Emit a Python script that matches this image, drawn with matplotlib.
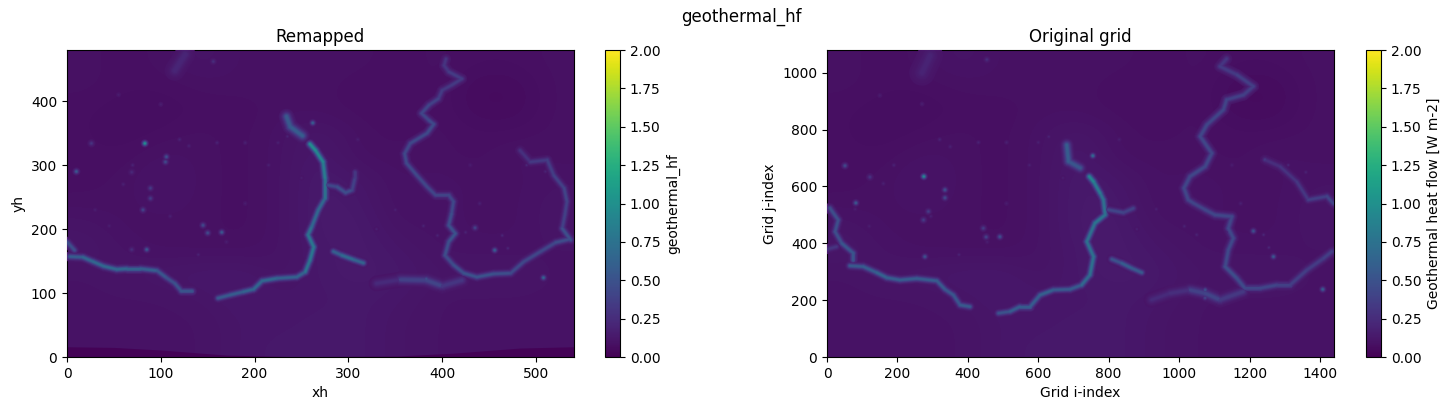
import numpy as np
import matplotlib
matplotlib.use('Agg')
import matplotlib.pyplot as plt
from matplotlib.collections import LineCollection
from matplotlib.colors import Normalize

# Broad background heat flow, rows go from south to north
background = [
    [.10, .10, .10, .10, .12, .13, .13, .13, .11, .10, .10, .10, .10],
    [.10, .10, .10, .10, .12, .12, .13, .13, .11, .10, .10, .10, .10],
    [.10, .10, .10, .11, .13, .12, .12, .13, .12, .10, .10, .10, .10],
    [.10, .11, .12, .13, .13, .10, .13, .14, .13, .11, .11, .11, .10],
    [.12, .10, .09, .09, .09, .10, .13, .14, .12, .10, .10, .10, .10],
    [.11, .09, .09, .09, .08, .10, .14, .14, .10, .10, .09, .09, .11],
    [.09, .09, .10, .09, .08, .10, .14, .13, .09, .10, .09, .09, .11],
    [.08, .09, .11, .09, .08, .10, .14, .12, .09, .10, .09, .09, .10],
    [.08, .08, .10, .09, .08, .10, .13, .09, .09, .09, .08, .10, .09],
    [.08, .07, .08, .09, .08, .10, .12, .09, .08, .09, .08, .08, .09],
    [.08, .07, .07, .08, .08, .09, .09, .08, .08, .09, .06, .06, .09],
    [.09, .08, .08, .09, .09, .09, .09, .08, .08, .09, .06, .06, .09],
    [.09, .08, .09, .11, .09, .09, .09, .09, .08, .09, .08, .08, .09],
]

# Land-free strip along the southern edge of the remapped grid
strip_x = [0, 50, 99, 170, 241, 352, 412, 483, 540]
strip_top = [16, 15, 11, 3, 0.5, 1.5, 6, 14, 16]

# Remapped grid: ridges as (xh, yh), heat flow at each vertex and a width factor
ridge_a = [(3, 157), (17, 156), (28, 149), (39, 142), (53, 137), (64, 138), (78, 138),
           (96, 135), (106, 124), (115, 115), (122, 103), (133, 103)]
ridge_a2 = [(0, 180), (8, 167)]
ridge_b = [(161, 92), (174, 97), (188, 102), (199, 106), (208, 119), (224, 123), (245, 125),
           (254, 133), (259, 151), (263, 172), (257, 191), (261, 204), (268, 230), (275, 248),
           (275, 280), (273, 305), (265, 323), (259, 333)]
ridge_b2 = [(251, 346), (238, 360), (234, 376)]
ridge_gulf = [(277, 269), (288, 266), (297, 257), (304, 261), (307, 280), (307, 290)]
ridge_c = [(284, 165), (293, 159), (306, 152), (316, 147)]
ridge_d = [(404, 466), (402, 456), (407, 446), (421, 435), (410, 425), (400, 417), (396, 404),
           (386, 394), (378, 381), (386, 370), (391, 364), (384, 350), (366, 334), (360, 318),
           (362, 303), (373, 284), (384, 266), (393, 253), (407, 253), (412, 243), (410, 224),
           (407, 206), (414, 193), (407, 180), (403, 159), (412, 144), (423, 131), (437, 125),
           (455, 130), (473, 131), (487, 149), (505, 165), (521, 179), (535, 184)]
ridge_e = [(330, 115), (355, 121), (383, 120), (400, 111), (421, 120)]
ridge_f = [(483, 323), (494, 305), (512, 308), (519, 284), (530, 264), (533, 243), (531, 224),
           (528, 201), (537, 183)]
ridge_g = [(126, 473), (115, 448)]
ridges_left = [ridge_a, ridge_a2, ridge_b, ridge_b2, ridge_gulf, ridge_c, ridge_d, ridge_e, ridge_f, ridge_g]
values_left = [
    [.55, .6, .68, .62, .7, .6, .65, .55, .5, .45, .55, .5],
    [.45, .5],
    [.5, .6, .55, .7, .6, .72, .5, .72, .75, .8, .75, .7, .6, .7, .78, .85, .95, .95],
    [.6, .55, .55],
    [.4, .45, .5, .42, .35, .3],
    [.55, .65, .7, .55],
    [.3, .3, .32, .38, .3, .35, .35, .42, .4, .42, .45, .45, .42, .42, .45, .42, .42,
     .4, .4, .42, .45, .48, .5, .5, .45, .45, .5, .5, .5, .45, .42, .42, .42, .5],
    [.22, .26, .5, .3, .32],
    [.25, .3, .36, .35, .4, .4, .35, .4, .55],
    [.22, .2],
]
widths_left = [1, 1, 1, 1.5, 1, 1, 1, 1.5, 1, 2]

spots_x_left = [83, 10, 26, 106, 105, 89, 89, 69, 81, 145, 150, 165, 85, 69, 156, 262, 435, 456, 508, 383]
spots_y_left = [334, 290, 334, 313, 305, 264, 248, 289, 230, 206, 194, 195, 168, 168, 462, 366, 202, 167, 124, 122]
spots_v_left = [1.0, .55, .3, .5, .45, .35, .35, .22, .4, .45, .45, .55, .55, .25, .25, .6, .4, .6, .65, .5]

# Faint scattered seamounts
faint_x_left = [130, 160, 190, 120, 100, 55, 70, 225, 235, 215, 140, 170, 60, 30, 464, 470, 395, 425, 380,
                490, 510, 440, 350, 330, 310, 250, 190, 110, 45, 430]
faint_y_left = [330, 335, 335, 340, 395, 410, 300, 335, 345, 300, 160, 180, 270, 230, 190, 170, 190, 195, 205,
                300, 290, 240, 230, 200, 340, 280, 240, 220, 205, 300]
faint_v_left = [.18, .2, .18, .2, .17, .16, .2, .18, .2, .18, .2, .17, .18, .17, .22, .22, .2, .2, .2,
                .22, .2, .18, .18, .18, .17, .17, .16, .18, .17, .16]

# Original grid: the same features in (i, j) index space
oridge_a = [(65, 321), (103, 318), (141, 297), (170, 279), (207, 271), (255, 276), (312, 268),
            (335, 238), (359, 218), (378, 183), (406, 177)]
oridge_a2 = [(8, 524), (32, 482), (23, 441), (42, 400), (75, 365), (75, 341)]
oridge_a3 = [(3, 380), (27, 388)]
oridge_b = [(487, 154), (520, 160), (548, 177), (577, 177), (605, 218), (643, 236), (690, 238),
            (723, 253), (747, 289), (757, 353), (738, 406), (761, 471), (790, 500), (785, 553),
            (776, 576), (757, 617), (745, 635)]
oridge_b2 = [(719, 665), (686, 688), (681, 746)]
oridge_gulf = [(799, 518), (842, 508), (870, 523)]
oridge_c = [(809, 344), (837, 330), (866, 312), (894, 297)]
oridge_d = [(1135, 1049), (1116, 1022), (1164, 993), (1211, 952), (1183, 922), (1135, 905),
            (1126, 870), (1079, 817), (1060, 776), (1093, 717), (1074, 670), (1031, 635),
            (1014, 594), (1026, 553), (1041, 541), (1074, 518), (1102, 500), (1150, 494),
            (1140, 453), (1154, 418), (1140, 377), (1131, 318), (1164, 277), (1187, 242),
            (1230, 242), (1278, 253), (1315, 253), (1363, 306), (1410, 347), (1434, 371)]
oridge_e = [(922, 201), (974, 224), (1031, 236), (1074, 224), (1116, 201), (1182, 230)]
oridge_f = [(1244, 694), (1287, 670), (1334, 617), (1367, 553), (1420, 565), (1438, 540)]
oridge_g = [(293, 1060), (270, 1000)]
ridges_right = [oridge_a, oridge_a2, oridge_a3, oridge_b, oridge_b2, oridge_gulf, oridge_c,
                oridge_d, oridge_e, oridge_f, oridge_g]
values_right = [
    [.55, .55, .6, .62, .55, .6, .55, .55, .5, .55, .55],
    [.45, .5, .45, .5, .55, .5],
    [.3, .3],
    [.45, .55, .6, .55, .6, .6, .5, .62, .7, .75, .7, .75, .75, .7, .75, .85, .95],
    [.5, .55, .6],
    [.4, .42, .35],
    [.45, .55, .6, .5],
    [.3, .32, .35, .38, .35, .4, .4, .42, .42, .42, .42, .42, .42, .42, .4, .4, .42, .42,
     .42, .45, .42, .45, .48, .42, .42, .4, .38, .35, .35, .38],
    [.22, .25, .27, .5, .3, .35],
    [.25, .28, .3, .33, .4, .4],
    [.2, .18],
]
widths_right = [1, 1, 1, 1, 1.4, 1, 1, 1.1, 1.5, 1, 2.5]

spots_x_right = [275, 51, 122, 335, 335, 82, 288, 274, 444, 452, 491, 278, 1211, 1268, 1408, 1074, 1074, 454, 755, 1244]
spots_y_right = [635, 673, 633, 588, 560, 542, 512, 482, 453, 422, 423, 353, 443, 353, 238, 236, 208, 1046, 708, 694]
spots_v_right = [.95, .45, .3, .5, .45, .55, .35, .35, .35, .4, .5, .5, .5, .55, .6, .5, .4, .25, .7, .35]

faint_x_right = [350, 430, 510, 320, 270, 150, 190, 600, 630, 575, 375, 455, 160, 80, 1240, 1255, 1050, 1135, 1015,
                 1310, 1360, 1175, 935, 880, 830, 670, 510, 295, 120, 1150]
faint_y_right = [740, 755, 755, 765, 890, 920, 675, 755, 775, 675, 360, 405, 610, 520, 430, 385, 430, 440, 460,
                 675, 650, 540, 520, 450, 765, 630, 540, 495, 460, 675]
faint_v_right = faint_v_left

norm = Normalize(0, 2)
cmap = plt.get_cmap('viridis')

# Stacked strokes that give the ridges a soft edge: (line width, share of the ridge
# value above the surroundings). Colours stay on the colormap all the way out.
soft_layers = [(7.5, .06), (6.2, .14), (5.0, .26), (4.0, .42), (3.0, .62), (2.1, .82), (1.3, 1.0)]
surroundings = 0.10


def draw_features(ax, ridges, values, widths, spots, faint):
    # widest layer first for every feature, so a spot never rings a ridge it sits on
    sx, sy, sv = spots
    fx, fy, fv = faint
    sv, fv = np.array(sv), np.array(fv)
    for lw, share in soft_layers:
        segments, seg_values, seg_widths = [], [], []
        for path, vals, w in zip(ridges, values, widths):
            for i in range(len(path) - 1):
                segments.append(path[i:i + 2])
                seg_values.append(surroundings + share * ((vals[i] + vals[i + 1]) / 2 - surroundings))
                seg_widths.append(lw * w)
        ax.scatter(fx, fy, s=(lw * 0.5) ** 2, c=surroundings + share * (fv - surroundings),
                   cmap=cmap, norm=norm, linewidths=0, zorder=3)
        lc = LineCollection(segments, array=np.array(seg_values), cmap=cmap, norm=norm,
                            linewidths=seg_widths, capstyle='round', zorder=3)
        ax.add_collection(lc)
        ax.scatter(sx, sy, s=(lw * 0.8) ** 2, c=surroundings + share * (sv - surroundings),
                   cmap=cmap, norm=norm, linewidths=0, zorder=3)


def panel(ax, cax, extent, ridges, values, widths, spots, faint, title, xlabel, ylabel, cbar_label):
    im = ax.imshow(background, origin='lower', extent=extent, aspect='auto', cmap=cmap,
                   norm=norm, interpolation='bicubic')
    draw_features(ax, ridges, values, widths, spots, faint)
    ax.set_xlim(extent[0], extent[1])
    ax.set_ylim(extent[2], extent[3])
    ax.set_title(title)
    ax.set_xlabel(xlabel)
    ax.set_ylabel(ylabel)
    cbar = fig.colorbar(im, cax=cax, ticks=np.arange(0, 2.01, 0.25))
    cbar.set_label(cbar_label)


W, H = 1451, 411
fig = plt.figure(figsize=(W / 100, H / 100), dpi=100)


def axes_px(x0, x1, top=50, bottom=357):
    return fig.add_axes([x0 / W, 1 - bottom / H, (x1 - x0) / W, (bottom - top) / H])


ax1 = axes_px(67, 573.5)
cax1 = axes_px(605, 620)
ax2 = axes_px(827, 1334)
cax2 = axes_px(1366, 1381)

panel(ax1, cax1, [0, 540, 0, 480], ridges_left, values_left, widths_left,
      (spots_x_left, spots_y_left, spots_v_left),
      (faint_x_left, faint_y_left, faint_v_left),
      'Remapped', 'xh', 'yh', 'geothermal_hf')
ax1.fill_between(strip_x, 0, strip_top, color=cmap(norm(0.015)), linewidth=0, zorder=2)

panel(ax2, cax2, [0, 1440, 0, 1080], ridges_right, values_right, widths_right,
      (spots_x_right, spots_y_right, spots_v_right),
      (faint_x_right, faint_y_right, faint_v_right),
      'Original grid', 'Grid i-index', 'Grid j-index', 'Geothermal heat flow [W m-2]')

fig.suptitle('geothermal_hf', x=741 / W, y=1 - 17 / H, va='center', fontsize=12)

fig.savefig('out.png', dpi=100)
